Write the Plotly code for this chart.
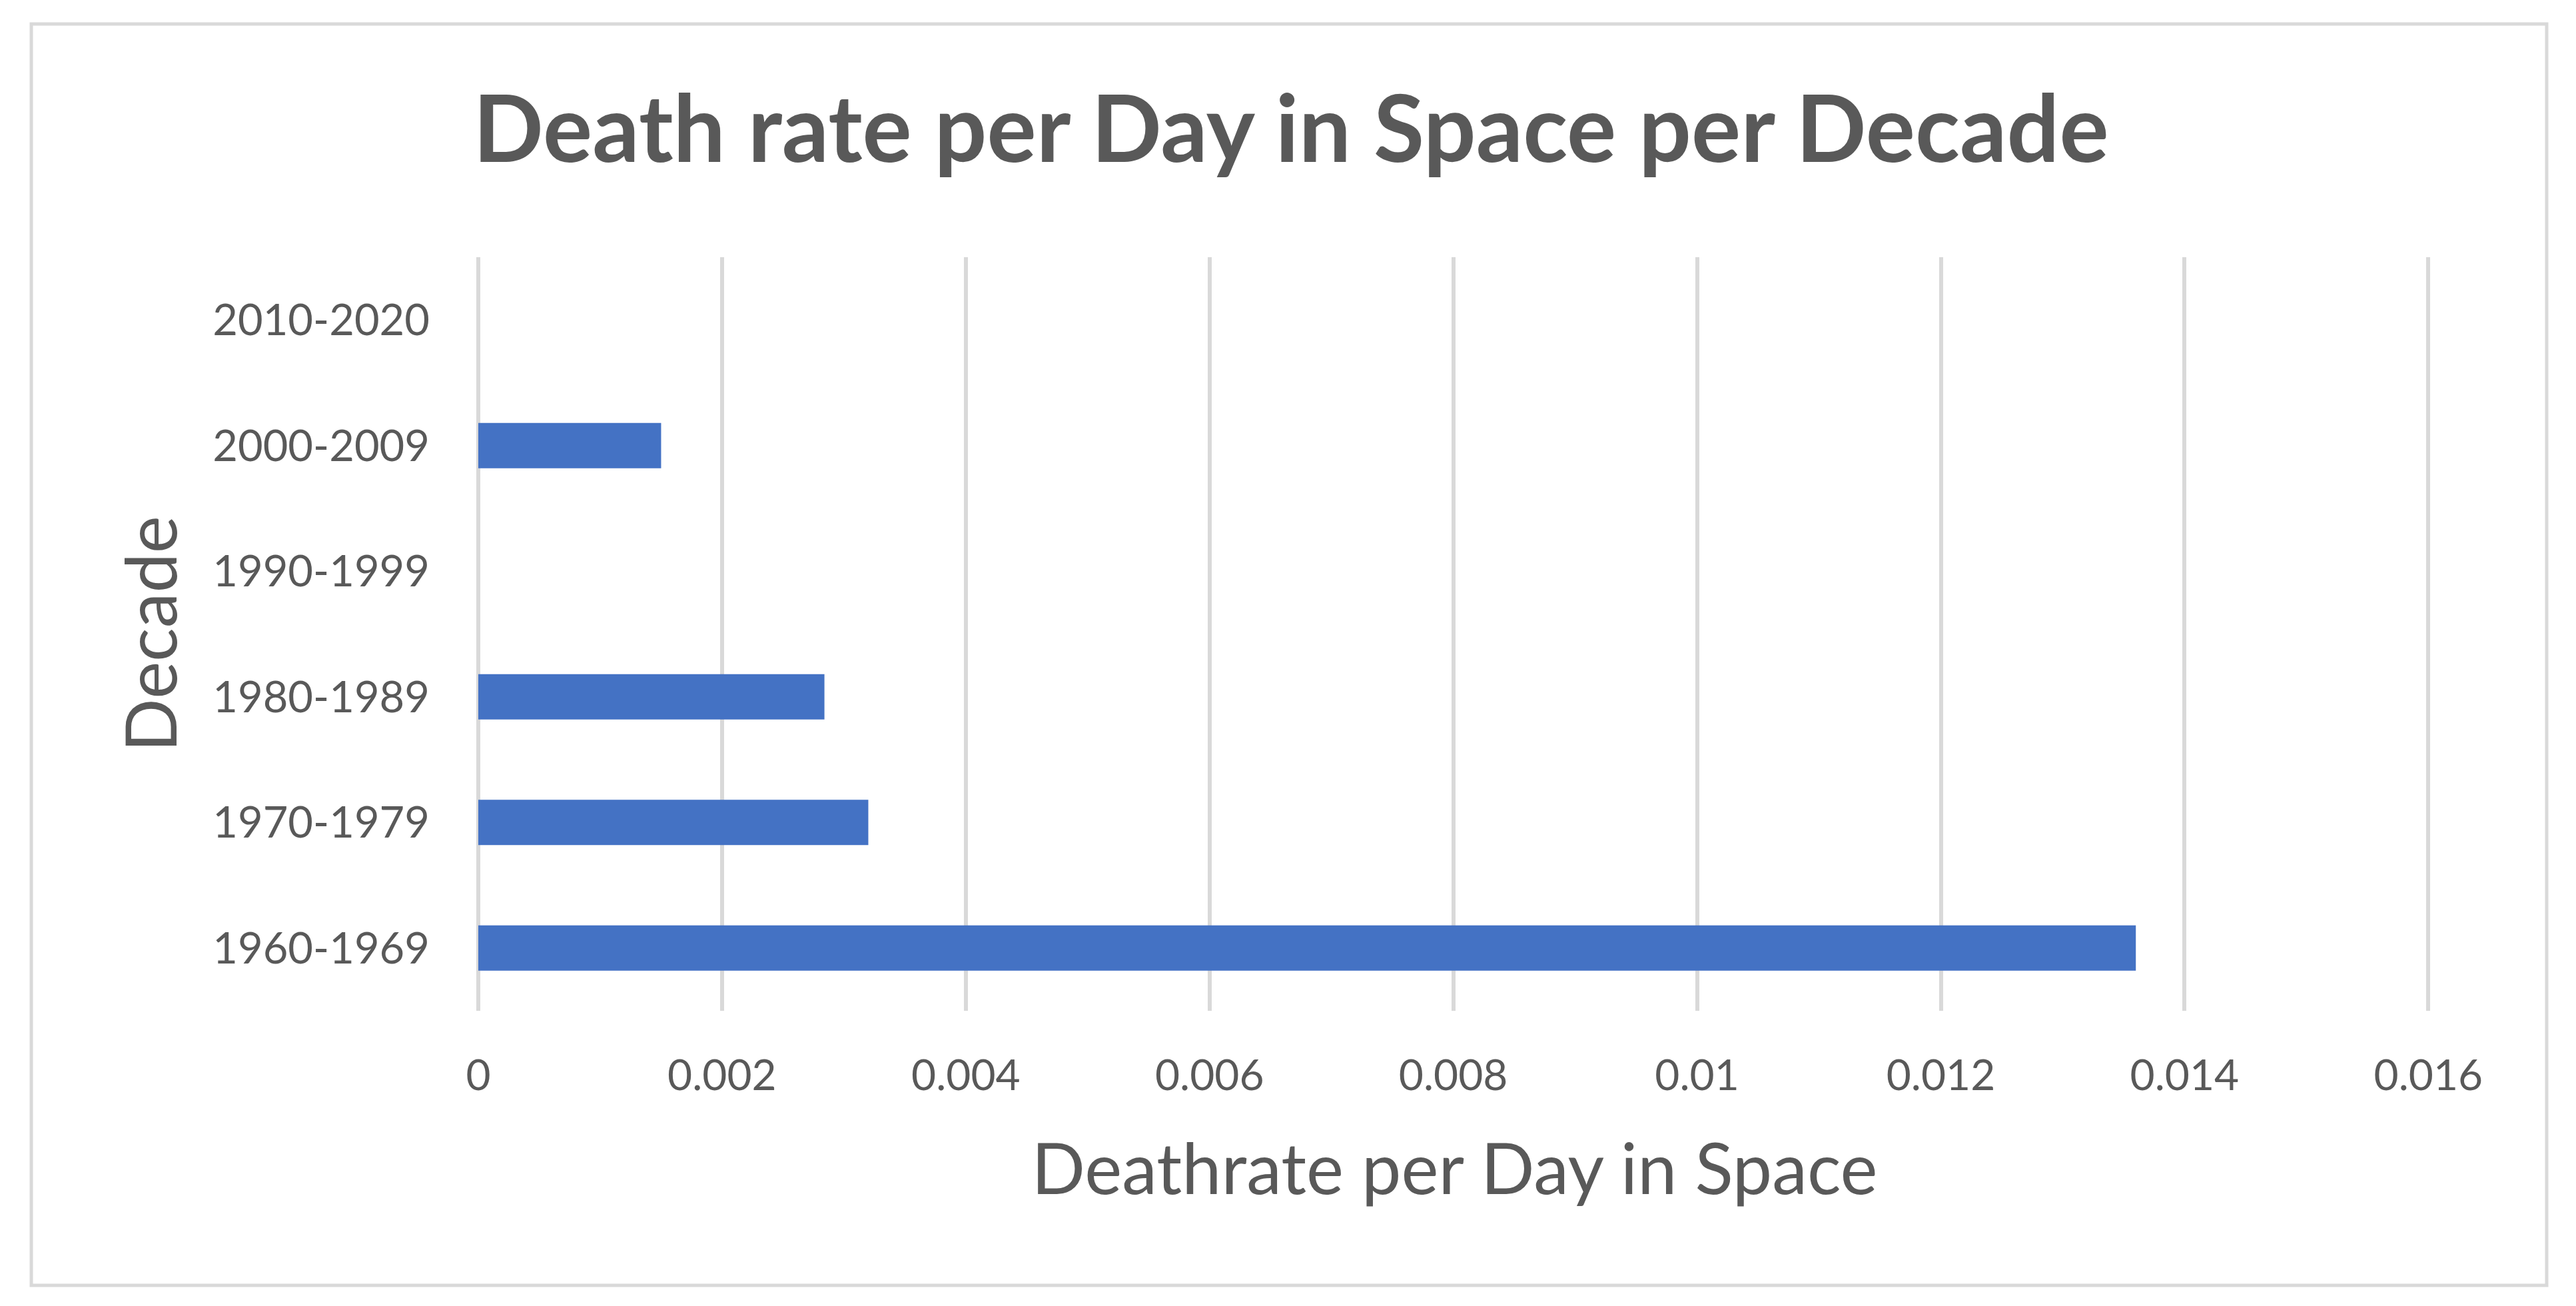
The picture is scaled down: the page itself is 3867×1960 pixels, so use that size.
import plotly.graph_objects as go

# decades (bottom to top) and death rate per day in space
decades = ["1960-1969", "1970-1979", "1980-1989", "1990-1999", "2000-2009", "2010-2020"]
death_rate = [0.0136, 0.0032, 0.00284, 0, 0.0015, 0]
x_ticks = [0, 0.002, 0.004, 0.006, 0.008, 0.01, 0.012, 0.014, 0.016]
x_tick_labels = ["0", "0.002", "0.004", "0.006", "0.008", "0.01", "0.012", "0.014", "0.016"]

# the page puts the figure 8px in from the top-left corner
OFF = 8
W, H = 3867 - OFF, 1960 - OFF
L, R, T, B = 718 - OFF, 3649 - OFF, 386 - OFF, 1517 - OFF
text_col = "#595959"
grid_col = "#d9d9d9"
font = "Lato"

fig = go.Figure()
fig.add_trace(go.Bar(
    x=death_rate, y=decades, orientation="h",
    marker=dict(color="#4472C4", line=dict(width=0)),
))

# outer chart border, in pixel positions converted to paper coords
def px_x(p):
    return (p - OFF - L) / (R - L)

def px_y(p):
    return (B - (p - OFF)) / (B - T)

fig.add_shape(type="rect", xref="paper", yref="paper",
              x0=px_x(47), x1=px_x(3823), y0=px_y(36), y1=px_y(1929),
              line=dict(color=grid_col, width=5), layer="below")

fig.update_layout(
    width=W, height=H,
    margin=dict(l=L, r=W - R, t=T, b=H - B, pad=0),
    paper_bgcolor="white", plot_bgcolor="white",
    showlegend=False,
    bargap=0.64,
    font=dict(family=font, color=text_col),
    title=dict(text="<b>Death rate per Day in Space per Decade</b>",
               x=(1938 - OFF) / W, xanchor="center",
               y=1 - (194 - OFF) / H, yanchor="middle",
               font=dict(family=font, size=139, color=text_col)),
)
fig.update_xaxes(range=[0, 0.01602], tickvals=x_ticks, ticktext=x_tick_labels,
                 showgrid=True, gridcolor=grid_col, gridwidth=6,
                 zeroline=True, zerolinecolor=grid_col, zerolinewidth=6,
                 showline=False, ticks="",
                 tickfont=dict(size=64, color=text_col), ticklabelstandoff=54,
                 title=dict(text="Deathrate per Day in Space", standoff=68,
                            font=dict(size=106, color=text_col)))
fig.update_yaxes(categoryorder="array", categoryarray=decades,
                 showgrid=False, zeroline=False, showline=False, ticks="",
                 tickfont=dict(size=65, color=text_col), ticklabelstandoff=72,
                 title=dict(text="Decade", standoff=18,
                            font=dict(size=106, color=text_col)))

fig.write_html("out.html")
